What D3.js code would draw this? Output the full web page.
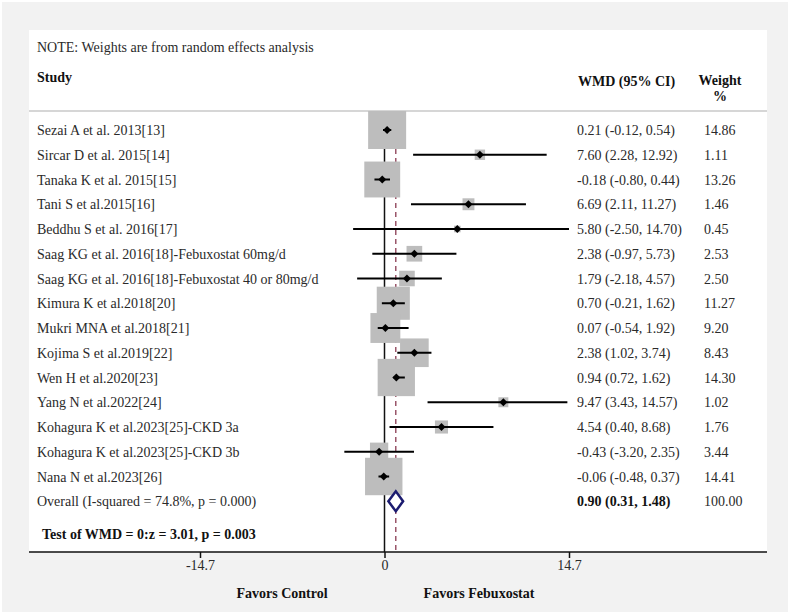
<!DOCTYPE html>
<html>
<head>
<meta charset="utf-8">
<script src="https://cdn.jsdelivr.net/npm/d3@7"></script>
<style>
  body { margin: 0; background: #fff; }
  svg text { font-family: "Liberation Serif", "Times New Roman", Times, serif; fill: #2a2a2a; }
  svg text.bold { font-weight: bold; fill: #111; }
</style>
</head>
<body>
<script>
// study rows, top to bottom
var studies = [
  "Sezai A et al. 2013[13]",
  "Sircar D et al. 2015[14]",
  "Tanaka K et al. 2015[15]",
  "Tani S et al.2015[16]",
  "Beddhu S et al. 2016[17]",
  "Saag KG et al. 2016[18]-Febuxostat 60mg/d",
  "Saag KG et al. 2016[18]-Febuxostat 40 or 80mg/d",
  "Kimura K et al.2018[20]",
  "Mukri MNA et al.2018[21]",
  "Kojima S et al.2019[22]",
  "Wen H et al.2020[23]",
  "Yang N et al.2022[24]",
  "Kohagura K et al.2023[25]-CKD 3a",
  "Kohagura K et al.2023[25]-CKD 3b",
  "Nana N et al.2023[26]"
];
var wmd   = [0.21, 7.60, -0.18, 6.69, 5.80, 2.38, 1.79, 0.70, 0.07, 2.38, 0.94, 9.47, 4.54, -0.43, -0.06];
var lower = [-0.12, 2.28, -0.80, 2.11, -2.50, -0.97, -2.18, -0.21, -0.54, 1.02, 0.72, 3.43, 0.40, -3.20, -0.48];
var upper = [0.54, 12.92, 0.44, 11.27, 14.70, 5.73, 4.57, 1.62, 1.92, 3.74, 1.62, 14.57, 8.68, 2.35, 0.37];
var weights = [14.86, 1.11, 13.26, 1.46, 0.45, 2.53, 2.50, 11.27, 9.20, 8.43, 14.30, 1.02, 1.76, 3.44, 14.41];

var overallLabel = "Overall  (I-squared = 74.8%, p = 0.000)";
var overall = {est: 0.90, lo: 0.31, hi: 1.48, weight: "100.00"};
var testLabel = "Test of WMD = 0:z = 3.01, p = 0.003";
var tickVals = [-14.7, 0, 14.7];

var width = 790, height = 615;
var panel = {left: 29, right: 767, top: 30, bottom: 552};
var fs = 14;

var svg = d3.select("body").append("svg").attr("width", width).attr("height", height)
  .attr("font-family", "Liberation Serif");

// gray outer area + white plot region
svg.append("rect").attr("x", 2).attr("y", 2).attr("width", 786).attr("height", 610).attr("fill", "#f2f2f2");
svg.append("rect").attr("x", panel.left).attr("y", panel.top)
   .attr("width", panel.right - panel.left).attr("height", panel.bottom - panel.top).attr("fill", "#fff");

var x = d3.scaleLinear().domain([-14.7, 14.7]).range([200, 569]);
var y = function(i){ return 130 + i * 24.75; };
var boxSize = d3.scaleSqrt().domain([0, 14.86]).range([0, 38]);

function fmt(v){ return v.toFixed(2); }

// header
svg.append("text").attr("x", 37).attr("y", 52).attr("font-size", fs).text("NOTE: Weights are from random effects analysis");
svg.append("text").attr("class", "bold").attr("x", 37).attr("y", 82).attr("font-size", fs).text("Study");
svg.append("text").attr("class", "bold").attr("x", 578).attr("y", 86).attr("font-size", fs).text("WMD (95% CI)");
svg.append("text").attr("class", "bold").attr("x", 720).attr("y", 85).attr("font-size", fs).attr("text-anchor", "middle").text("Weight");
svg.append("text").attr("class", "bold").attr("x", 720).attr("y", 101).attr("font-size", fs).attr("text-anchor", "middle").text("%");
svg.append("line").attr("x1", panel.left).attr("x2", panel.right).attr("y1", 111).attr("y2", 111)
   .attr("stroke", "#c8c8c8").attr("stroke-width", 1.5);

// reference lines
svg.append("line").attr("x1", x(0)).attr("x2", x(0)).attr("y1", 113).attr("y2", panel.bottom)
   .attr("stroke", "#111").attr("stroke-width", 1.5);
svg.append("line").attr("x1", x(overall.est)).attr("x2", x(overall.est)).attr("y1", 113).attr("y2", panel.bottom)
   .attr("stroke", "#8a3b52").attr("stroke-width", 1.3).attr("stroke-dasharray", "5,4");

var rows = studies.map(function(s, i){
  return {label: s, est: wmd[i], lo: lower[i], hi: upper[i], w: weights[i], i: i};
});

var g = svg.append("g");
// weight boxes
g.selectAll("rect.box").data(rows).enter().append("rect").attr("class", "box")
  .attr("x", function(d){ return x(d.est) - boxSize(d.w) / 2; })
  .attr("y", function(d){ return y(d.i) - boxSize(d.w) / 2; })
  .attr("width", function(d){ return boxSize(d.w); })
  .attr("height", function(d){ return boxSize(d.w); })
  .attr("fill", "#bdbdbd");
// CI lines
g.selectAll("line.ci").data(rows).enter().append("line").attr("class", "ci")
  .attr("x1", function(d){ return x(d.lo); })
  .attr("x2", function(d){ return x(d.hi); })
  .attr("y1", function(d){ return y(d.i); })
  .attr("y2", function(d){ return y(d.i); })
  .attr("stroke", "#000").attr("stroke-width", 2);
// point estimates
g.selectAll("path.pt").data(rows).enter().append("path").attr("class", "pt")
  .attr("d", function(d){
    var cx = x(d.est), cy = y(d.i), r = 4;
    return "M" + (cx - r) + "," + cy + "L" + cx + "," + (cy - r) + "L" + (cx + r) + "," + cy + "L" + cx + "," + (cy + r) + "Z";
  })
  .attr("fill", "#000");

// labels and values
g.selectAll("text.lbl").data(rows).enter().append("text").attr("class", "lbl")
  .attr("x", 37).attr("y", function(d){ return y(d.i) + 5; }).attr("font-size", fs)
  .text(function(d){ return d.label; });
g.selectAll("text.val").data(rows).enter().append("text").attr("class", "val")
  .attr("x", 577).attr("y", function(d){ return y(d.i) + 5; }).attr("font-size", fs)
  .text(function(d){ return fmt(d.est) + " (" + fmt(d.lo) + ", " + fmt(d.hi) + ")"; });
g.selectAll("text.wt").data(rows).enter().append("text").attr("class", "wt")
  .attr("x", 704).attr("y", function(d){ return y(d.i) + 5; }).attr("font-size", fs)
  .text(function(d){ return fmt(d.w); });

// overall row
var oy = y(studies.length);
svg.append("text").attr("x", 37).attr("y", oy + 5).attr("font-size", fs).text(overallLabel);
svg.append("path")
  .attr("d", "M" + x(overall.lo) + "," + oy + "L" + x(overall.est) + "," + (oy - 10) + "L" + x(overall.hi) + "," + oy + "L" + x(overall.est) + "," + (oy + 10) + "Z")
  .attr("fill", "#fff").attr("stroke", "#1b1b6f").attr("stroke-width", 2.5);
svg.append("text").attr("class", "bold").attr("x", 577).attr("y", oy + 5).attr("font-size", fs)
  .text(fmt(overall.est) + " (" + fmt(overall.lo) + ", " + fmt(overall.hi) + ")");
svg.append("text").attr("x", 704).attr("y", oy + 5).attr("font-size", fs).text(overall.weight);

svg.append("text").attr("class", "bold").attr("x", 42).attr("y", 539).attr("font-size", fs).text(testLabel);

// x axis
var xAxis = d3.axisBottom(x).tickValues(tickVals).tickSize(6).tickPadding(4)
  .tickFormat(function(d){ return d === 0 ? "0" : d; });
var ax = svg.append("g").attr("transform", "translate(0," + panel.bottom + ")").call(xAxis);
ax.select(".domain").remove();
ax.selectAll(".tick line").attr("stroke", "#111").attr("stroke-width", 1.5);
ax.selectAll(".tick text").attr("font-size", fs).attr("dy", "0.6em");
svg.append("line").attr("x1", panel.left).attr("x2", panel.right).attr("y1", panel.bottom).attr("y2", panel.bottom)
   .attr("stroke", "#111").attr("stroke-width", 1.5);

svg.append("text").attr("class", "bold").attr("x", 282).attr("y", 598).attr("font-size", fs).attr("text-anchor", "middle").text("Favors Control");
svg.append("text").attr("class", "bold").attr("x", 479).attr("y", 598).attr("font-size", fs).attr("text-anchor", "middle").text("Favors Febuxostat");
</script>
</body>
</html>
